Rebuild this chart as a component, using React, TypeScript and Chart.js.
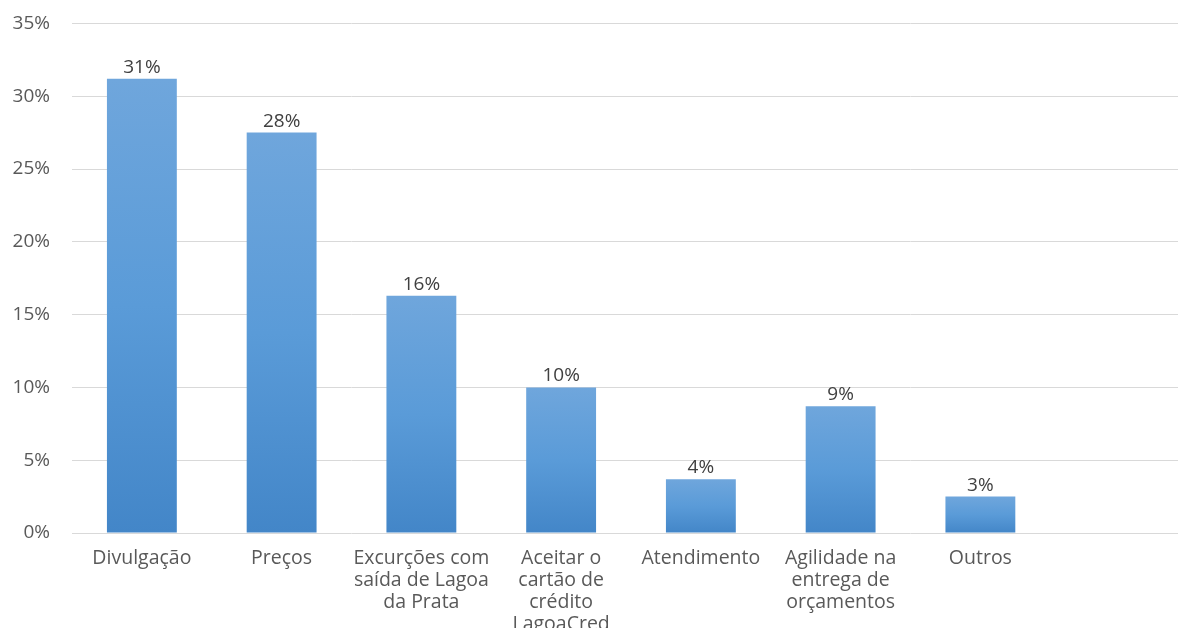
import React, { useEffect, useRef } from "react";
import { Chart, registerables } from "chart.js";

Chart.register(...registerables);

const categories: (string | string[])[] = [
  "Divulgação",
  "Preços",
  ["Excurções com", "saída de Lagoa", "da Prata"],
  ["Aceitar o", "cartão de", "crédito", "LagoaCred"],
  "Atendimento",
  ["Agilidade na", "entrega de", "orçamentos"],
  "Outros",
  "",
];
const values: (number | null)[] = [31.2, 27.5, 16.3, 10.0, 3.7, 8.7, 2.5, null];
const yTicks = [0, 5, 10, 15, 20, 25, 30, 35];

const FONT = "'Open Sans', 'Noto Sans', sans-serif";
const CANVAS_W = 1192;
const CANVAS_H = 650;
const SHIFT = 10;
const PLOT_BOTTOM = 533 + SHIFT;
const PLOT_LEFT = 72;

const valueLabels = {
  id: "valueLabels",
  afterDatasetsDraw(chart: any) {
    const ctx = chart.ctx;
    const meta = chart.getDatasetMeta(0);
    ctx.save();
    ctx.font = `19px ${FONT}`;
    ctx.fillStyle = "#404040";
    ctx.textAlign = "center";
    ctx.textBaseline = "bottom";
    meta.data.forEach((bar: any, i: number) => {
      const v = values[i];
      if (v == null) return;
      ctx.fillText(`${Math.round(v)}%`, bar.x, bar.y - 2);
    });
    ctx.restore();
  },
};

export default function App() {
  const ref = useRef<HTMLCanvasElement | null>(null);
  useEffect(() => {
    if (!ref.current) return;
    const chart = new Chart(ref.current, {
      type: "bar",
      data: {
        labels: categories,
        datasets: [
          {
            data: values,
            backgroundColor: (c: any) => {
              const ch = c.chart;
              const y = ch.scales?.y;
              const v = c.raw;
              if (!y || v == null) return "#5B9BD5";
              const top = y.getPixelForValue(v);
              const bottom = y.getPixelForValue(0);
              if (!isFinite(top) || !isFinite(bottom) || top === bottom) return "#5B9BD5";
              const g = ch.ctx.createLinearGradient(0, top, 0, bottom);
              g.addColorStop(0, "#6FA6DC");
              g.addColorStop(0.5, "#5A9BD8");
              g.addColorStop(1, "#4386C8");
              return g;
            },
            borderWidth: 0,
            categoryPercentage: 1,
            barPercentage: 0.5,
          },
        ],
      },
      options: {
        responsive: false,
        animation: false,
        maintainAspectRatio: false,
        layout: { padding: { top: 7, left: 0, right: 2, bottom: 0 } },
        plugins: {
          legend: { display: false },
          tooltip: { enabled: false },
        },
        scales: {
          x: {
            grid: { display: false, drawTicks: false },
            border: { display: false },
            ticks: {
              color: "#595959",
              font: { family: FONT, size: 19.5, lineHeight: 1.13 },
              padding: 14,
              maxRotation: 0,
              autoSkip: false,
            },
            afterFit: (s: any) => {
              s.height = CANVAS_H - PLOT_BOTTOM;
            },
          },
          y: {
            min: 0,
            max: 35,
            afterBuildTicks: (s: any) => {
              s.ticks = yTicks.map((v) => ({ value: v }));
            },
            afterFit: (s: any) => {
              s.width = PLOT_LEFT;
            },
            grid: { color: "#D9D9D9", lineWidth: 1, drawTicks: false },
            border: { display: false },
            ticks: {
              color: "#595959",
              font: { family: FONT, size: 19 },
              padding: 22,
              callback: (v: any) => `${v}%`,
            },
          },
        },
      },
      plugins: [valueLabels],
    });
    return () => chart.destroy();
  }, []);
  return (
    <div
      style={{
        position: "fixed",
        left: 0,
        top: 0,
        width: 1178,
        height: 628,
        overflow: "hidden",
        background: "#fff",
      }}
    >
      <canvas
        ref={ref}
        width={CANVAS_W}
        height={CANVAS_H}
        style={{ display: "block", marginTop: -SHIFT }}
      />
    </div>
  );
}
